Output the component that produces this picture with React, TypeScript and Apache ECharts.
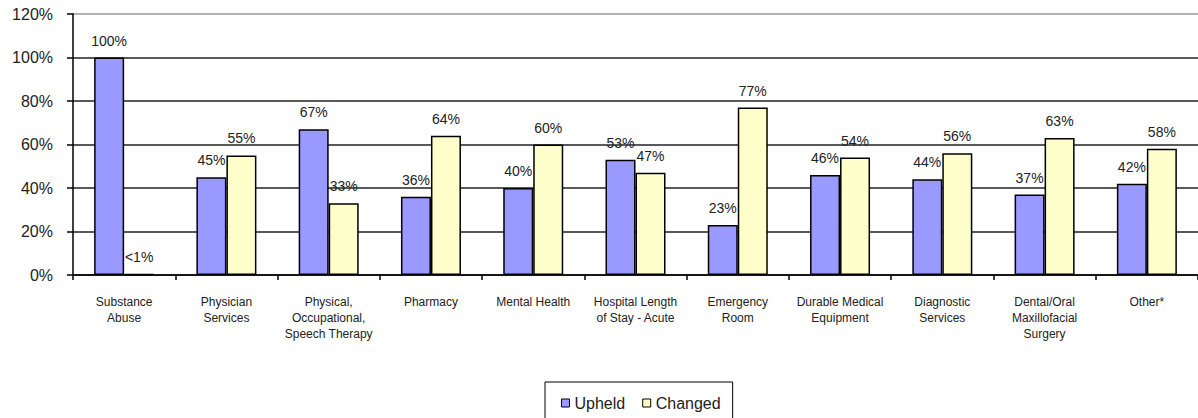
import React, { useEffect, useRef } from "react";
import * as echarts from "echarts";

const categories = [
  "Substance\nAbuse",
  "Physician\nServices",
  "Physical,\nOccupational,\nSpeech Therapy",
  "Pharmacy",
  "Mental Health",
  "Hospital Length\nof Stay - Acute",
  "Emergency\nRoom",
  "Durable Medical\nEquipment",
  "Diagnostic\nServices",
  "Dental/Oral\nMaxillofacial\nSurgery",
  "Other*",
];
const upheld = [100, 45, 67, 36, 40, 53, 23, 46, 44, 37, 42];
const changed = [0.4, 55, 33, 64, 60, 47, 77, 54, 56, 63, 58];
const yTicks = [0, 20, 40, 60, 80, 100, 120];

const FONT = "'Liberation Sans', Arial, sans-serif";

export default function App() {
  const ref = useRef<HTMLDivElement>(null);
  useEffect(() => {
    if (!ref.current) return;
    const chart = echarts.init(ref.current, null, { renderer: "svg" });
    const labelFmt = (p: any) => (p.value < 1 ? "<1%" : p.value + "%");
    chart.setOption({
      animation: false,
      textStyle: { fontFamily: FONT },
      grid: { left: 73, top: 14, bottom: 143, right: -4, containLabel: false },
      legend: {
        top: 382,
        left: 545,
        padding: [13, 12, 20, 16],
        borderColor: "#000",
        borderWidth: 1,
        itemWidth: 8,
        itemHeight: 8,
        itemGap: 17,
        icon: "rect",
        textStyle: { fontSize: 16, color: "#222", fontFamily: FONT },
        data: [
          { name: "Upheld", itemStyle: { borderColor: "#000", borderWidth: 1 } },
          { name: "Changed", itemStyle: { borderColor: "#000", borderWidth: 1 } },
        ],
      },
      xAxis: {
        type: "category",
        data: categories,
        axisLine: { lineStyle: { color: "#000", width: 1.5 } },
        axisTick: { show: true, length: 5, lineStyle: { color: "#000", width: 1.5 } },
        axisLabel: {
          interval: 0,
          margin: 19,
          fontSize: 12,
          lineHeight: 16,
          color: "#222",
          fontFamily: FONT,
        },
      },
      yAxis: {
        type: "value",
        min: 0,
        max: yTicks[yTicks.length - 1],
        interval: 20,
        axisLine: { show: true, lineStyle: { color: "#000", width: 1.5 } },
        axisTick: { show: true, length: 6, lineStyle: { color: "#000", width: 1.5 } },
        axisLabel: {
          margin: 20,
          fontSize: 16,
          color: "#222",
          fontFamily: FONT,
          formatter: (v: number) => v + "%",
        },
        splitLine: {
          lineStyle: {
            color: ["#222", "#222", "#222", "#222", "#222", "#222", "#999"],
            width: 1.5,
          },
        },
      },
      series: [
        {
          name: "Upheld",
          type: "bar",
          data: upheld,
          barWidth: 30,
          barGap: "0%",
          itemStyle: { color: "#9999FF", borderColor: "#000", borderWidth: 1.5 },
          label: {
            show: true,
            position: "top",
            distance: 10,
            fontSize: 14,
            color: "#222",
            fontFamily: FONT,
            formatter: labelFmt,
          },
        },
        {
          name: "Changed",
          type: "bar",
          data: changed,
          barWidth: 30,
          barGap: "0%",
          itemStyle: { color: "#FFFFCC", borderColor: "#000", borderWidth: 1.5 },
          label: {
            show: true,
            position: "top",
            distance: 10,
            fontSize: 14,
            color: "#222",
            fontFamily: FONT,
            formatter: labelFmt,
          },
        },
      ],
    });
    return () => chart.dispose();
  }, []);
  return (
    <div
      ref={ref}
      style={{ position: "fixed", left: 0, top: 0, width: 1198, height: 418, background: "#fff" }}
    />
  );
}
